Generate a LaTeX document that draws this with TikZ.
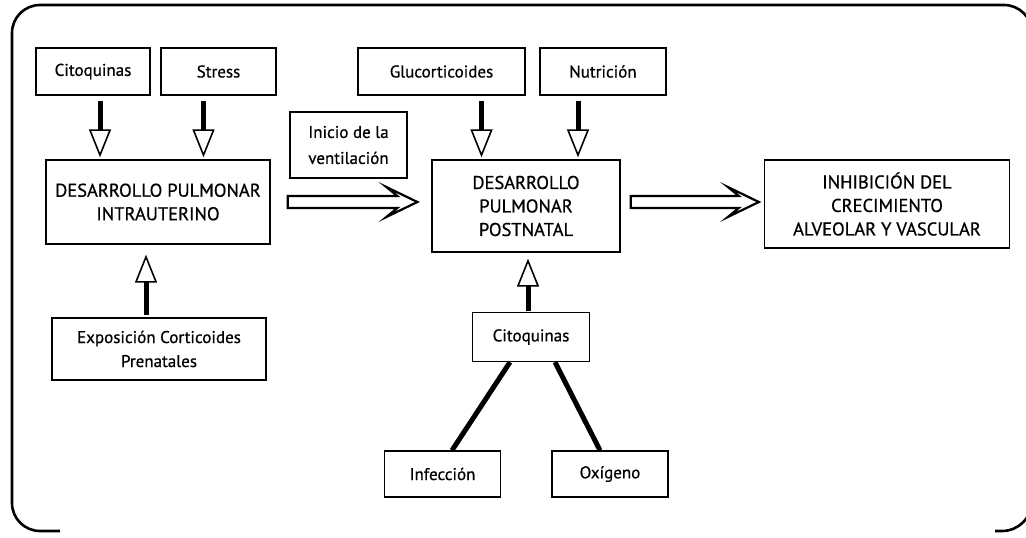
\documentclass[tikz,border=0pt]{standalone}
\usepackage{fontspec}
\setmainfont{PT Sans}[FakeBold=0.7]
\newfontfamily\medfont{PT Sans}[FakeBold=0.7]
\usetikzlibrary{arrows.meta,calc}
\tikzset{
  box/.style={draw, line width=1.3pt, inner sep=2pt, align=center, font=\medfont\fontsize{17}{26}\selectfont},
  bigbox/.style={box, font=\medfont\fontsize{18.5}{23.5}\selectfont},
  varrow/.style={line width=5pt, -{Triangle[open, length=28pt, width=22pt, line width=1.6pt]}},
  hollow/.style={draw, line width=2.2pt, fill=white, line join=miter},
  stem/.style={line width=5pt},
  frame/.style={line width=2.6pt}
}
\begin{document}
\begin{tikzpicture}[x=1pt,y=-1pt]
\useasboundingbox (0,0) rectangle (1026,538);
\clip (0,0) rectangle (1026,538);
% outer frame
\draw[frame, rounded corners=28pt] (60,531) -- (12,531) -- (12,5) -- (1032,5) -- (1032,60);
\draw[frame, rounded corners=30pt] (995,531) -- (1032,531) -- (1032,490);
% boxes
\node[box, minimum width=114pt, minimum height=47pt] (cit1) at (93,71.5) {Citoquinas};
\node[box, minimum width=115pt, minimum height=47pt] (stress) at (218.5,71.5) {Stress};
\node[box, minimum width=167pt, minimum height=47pt] (gluco) at (441.5,71.5) {Glucorticoides};
\node[box, minimum width=126pt, minimum height=47pt] (nutri) at (603,71.5) {Nutrición};
\node[box, minimum width=117pt, minimum height=66pt] (inicio) at (348.5,145) {Inicio de la\\ventilación};
\node[bigbox, minimum width=224pt, minimum height=84pt] (intra) at (158,202) {DESARROLLO PULMONAR\\INTRAUTERINO};
\node[bigbox, minimum width=188pt, minimum height=92pt] (post) at (526,206) {DESARROLLO\\PULMONAR\\POSTNATAL};
\node[bigbox, minimum width=245pt, minimum height=88pt] (inhib) at (887,204) {INHIBICIÓN DEL\\CRECIMIENTO\\ALVEOLAR Y VASCULAR};
\node[box, minimum width=214pt, minimum height=62pt, font=\medfont\fontsize{17}{24}\selectfont] (expo) at (159,349) {Exposición Corticoides\\Prenatales};
\node[box, minimum width=117pt, minimum height=49pt] (cit2) at (531,337) {Citoquinas};
\node[box, minimum width=116pt, minimum height=46pt] (infec) at (442.5,474) {Infección};
\node[box, minimum width=116pt, minimum height=46pt] (oxig) at (610,474) {Oxígeno};
% vertical arrows
\draw[varrow] ($(cit1.south)+(7,5)$) -- ($(cit1.south |- intra.north)+(7,-2)$);
\draw[varrow] ($(stress.south)+(-15,5)$) -- ($(stress.south |- intra.north)+(-15,-2)$);
\draw[varrow] ($(gluco.south)+(40,5)$) -- ($(gluco.south |- post.north)+(40,-2)$);
\draw[varrow] ($(nutri.south)+(-25,5)$) -- ($(nutri.south |- post.north)+(-25,-2)$);
\draw[varrow] ($(expo.north)+(-13,-2)$) -- ($(expo.north |- intra.south)+(-13,10)$);
\draw[varrow] ($(cit2.north)+(-3,-1)$) -- ($(cit2.north |- post.south)+(-3,6)$);
% hollow horizontal arrows
\coordinate (h1s) at ($(intra.east)+(17,0)$);
\coordinate (h1e) at ($(post.west |- intra.east)+(-14,0)$);
\draw[hollow] ($(h1s)+(0,-6)$) -- ($(h1e)+(-20,-6)$) -- ($(h1e)+(-31,-15)$) -- (h1e)
  -- ($(h1e)+(-31,15)$) -- ($(h1e)+(-20,6)$) -- ($(h1s)+(0,6)$) -- cycle;
\coordinate (h2s) at ($(post.east |- intra.east)+(10,0)$);
\coordinate (h2e) at ($(inhib.west |- intra.east)+(-5,0)$);
\draw[hollow] ($(h2s)+(0,-6)$) -- ($(h2e)+(-20,-6)$) -- ($(h2e)+(-31,-15)$) -- (h2e)
  -- ($(h2e)+(-31,15)$) -- ($(h2e)+(-20,6)$) -- ($(h2s)+(0,6)$) -- cycle;
% stems
\draw[stem] ($(cit2.south)+(-21,0)$) -- ($(infec.north)+(9.5,0)$);
\draw[stem] ($(cit2.south)+(24,0)$) -- ($(oxig.north)+(-10,0)$);
\end{tikzpicture}
\end{document}
